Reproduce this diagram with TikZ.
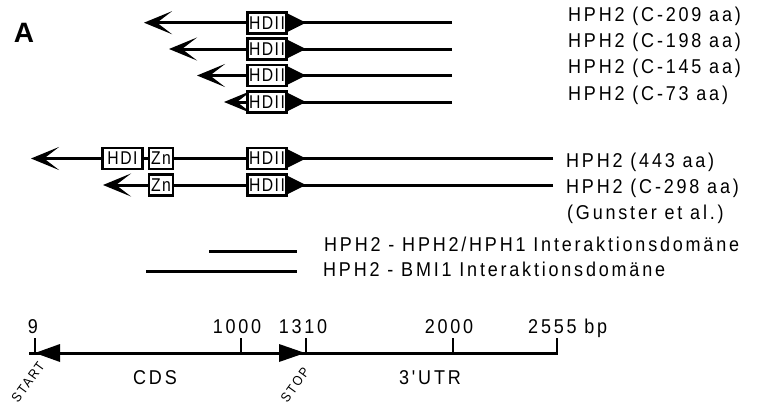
\documentclass[tikz,border=0pt]{standalone}
\usepackage{fontspec}
\setmainfont{Liberation Sans}
\newfontfamily\lblfam{Liberation Sans}[LetterSpace=14,FakeStretch=0.9]
\newfontfamily\boxfam{Liberation Sans}[LetterSpace=8,FakeStretch=0.85]
\usetikzlibrary{arrows.meta}
\newcommand{\lblsize}{\lblfam\fontsize{20}{21}\selectfont}
\newcommand{\boxsize}{\boxfam\fontsize{18.5}{19}\selectfont}
\begin{document}
\begin{tikzpicture}[x=1pt,y=-1pt,
  gline/.style={line width=3pt},
  larrow/.style={gline,-{Stealth[length=28pt,width=23pt,inset=15pt]}},
  dombox/.style={draw,line width=2.8pt,fill=white,inner sep=0pt,minimum height=21pt,font=\boxsize},
  lbl/.style={anchor=base west,inner sep=0pt,font=\lblsize},
  axlbl/.style={anchor=base,inner sep=0pt,font=\lblsize},
  tick/.style={line width=2.5pt},
  smalllbl/.style={inner sep=0pt,font=\lblfam\fontsize{13.5}{14}\selectfont,rotate=54}]
\useasboundingbox (0,0) rectangle (765,407);

\node[font=\bfseries\fontsize{28}{30}\selectfont,inner sep=0pt] (A) at (24,33) {A};

% --- C-terminal constructs ---
\foreach \n/\y/\xl in {1/22.7/144,2/49/169,3/75.5/197,4/102/224}{
  \coordinate (L\n) at (\xl,\y);
  \coordinate (R\n) at (452,\y);
  \draw[larrow] (R\n) -- (L\n);
  \node[dombox,minimum width=39pt] (H\n) at (267,\y) {HDII};
  \fill ([yshift=-9pt]H\n.east) -- ([xshift=18pt]H\n.east) -- ([yshift=9pt]H\n.east) -- cycle;
}
\node[lbl] (t1) at (568,21) {HPH2 (C-209 aa)};
\node[lbl] (t2) at (568,47.3) {HPH2 (C-198 aa)};
\node[lbl] (t3) at (568,73.8) {HPH2 (C-145 aa)};
\node[lbl] (t4) at (568,100) {HPH2 (C-73 aa)};

% --- full length and C-298 ---
\coordinate (L5) at (31,158.5);
\coordinate (R5) at (553,158.5);
\draw[larrow] (R5) -- (L5);
\node[dombox,minimum width=40pt] (HDI5) at (122.5,158.5) {HDI};
\node[dombox,minimum width=24pt] (Zn5) at (161,158.5) {Zn};
\node[dombox,minimum width=39pt] (H5) at (267,158.5) {HDII};
\fill ([yshift=-9pt]H5.east) -- ([xshift=18pt]H5.east) -- ([yshift=9pt]H5.east) -- cycle;

\coordinate (L6) at (103,185);
\coordinate (R6) at (553,185);
\draw[larrow] (R6) -- (L6);
\node[dombox,minimum width=24pt] (Zn6) at (161,185) {Zn};
\node[dombox,minimum width=39pt] (H6) at (267,185) {HDII};
\fill ([yshift=-9pt]H6.east) -- ([xshift=18pt]H6.east) -- ([yshift=9pt]H6.east) -- cycle;

\node[lbl] (t5) at (566,167.3) {HPH2 (443 aa)};
\node[lbl] (t6) at (566,193.3) {HPH2 (C-298 aa)};
\node[lbl] (t7) at (567,219.5) {(Gunster et al.)};

% --- interaction domains ---
\coordinate (d1a) at (209,251);
\coordinate (d1b) at (297,251);
\draw[gline] (d1a) -- (d1b);
\coordinate (d2a) at (146,271);
\coordinate (d2b) at (297,271);
\draw[gline] (d2a) -- (d2b);
\node[lbl] (l1) at (324,251.7) {HPH2 - HPH2/HPH1 Interaktionsdomäne};
\node[lbl] (l2) at (323,276.7) {HPH2 - BMI1 Interaktionsdomäne};

% --- axis ---
\coordinate (aL) at (29,353);
\coordinate (aR) at (558,353);
\draw[gline] (aL) -- (aR);
\foreach \nm/\x in {k9/35,k1000/241,k1310/306,k2000/453,k2555/557}{
  \coordinate (\nm) at (\x,353);
  \draw[tick] (\nm) -- ++(0,-15);
}
\fill (k9) -- ++(25,-9) -- ++(0,18) -- cycle;
\fill (k1310) ++(-1,0) -- ++(-26,-9) -- ++(0,18) -- cycle;

\node[axlbl] (n9) at (33,333) {9};
\node[axlbl] (n1000) at (237,333) {1000};
\node[axlbl] (n1310) at (303,333) {1310};
\node[axlbl] (n2000) at (449,333) {2000};
\node[lbl] (n2555) at (528,333) {2555 bp};
\node[axlbl] (cds) at (155,384) {CDS};
\node[axlbl] (utr) at (430,384) {3'UTR};
\node[smalllbl] (start) at (28,382) {START};
\node[smalllbl] (stop) at (295,385) {STOP};
\end{tikzpicture}
\end{document}
